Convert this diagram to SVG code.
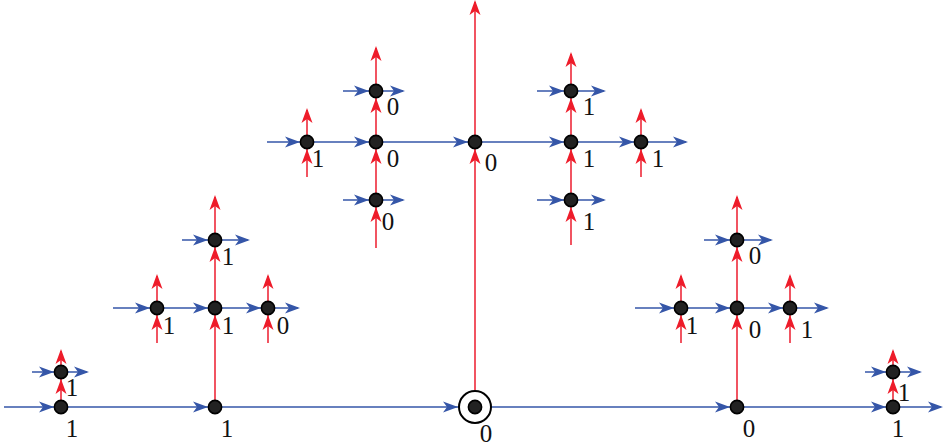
<svg xmlns="http://www.w3.org/2000/svg" xmlns:xlink="http://www.w3.org/1999/xlink" width="945" height="448" viewBox="0 0 945 448">
<style>
.b{stroke:#3556a8;stroke-width:1.6;fill:none}
.r{stroke:#ee2a3a;stroke-width:1.6;fill:none}
.n{fill:#222;stroke:#000;stroke-width:1.6}
.t{font-family:"Liberation Serif","Times New Roman",serif;font-size:25px;fill:#111;text-anchor:middle}
</style>
<defs>
<path id="ab" d="M0,0 L-15,-5.5 L-11,0 L-15,5.5 Z" fill="#3556a8"/>
<path id="ar" d="M0,0 L-5.5,15 L0,11 L5.5,15 Z" fill="#ee1c2a"/>
</defs>
<rect width="945" height="448" fill="#fff"/>
<g id="connectors">
<line class="b" x1="4" y1="407" x2="941" y2="407"/>
<line class="b" x1="32" y1="372" x2="87" y2="372"/>
<line class="b" x1="865" y1="372" x2="920" y2="372"/>
<line class="b" x1="113" y1="308" x2="298" y2="308"/>
<line class="b" x1="182" y1="240" x2="248" y2="240"/>
<line class="b" x1="635" y1="308" x2="827" y2="308"/>
<line class="b" x1="704" y1="240" x2="771" y2="240"/>
<line class="b" x1="267" y1="142" x2="686" y2="142"/>
<line class="b" x1="343" y1="91" x2="403" y2="91"/>
<line class="b" x1="537" y1="91" x2="604" y2="91"/>
<line class="b" x1="343" y1="200" x2="403" y2="200"/>
<line class="b" x1="537" y1="200" x2="604" y2="200"/>
<line class="r" x1="61" y1="407" x2="61" y2="351"/>
<line class="r" x1="893" y1="407" x2="893" y2="351"/>
<line class="r" x1="215" y1="407" x2="215" y2="197"/>
<line class="r" x1="737" y1="407" x2="737" y2="197"/>
<line class="r" x1="475" y1="390" x2="475" y2="2"/>
<line class="r" x1="376" y1="248" x2="376" y2="48"/>
<line class="r" x1="571" y1="245" x2="571" y2="54"/>
<line class="r" x1="157" y1="343" x2="157" y2="276"/>
<line class="r" x1="268" y1="343" x2="268" y2="276"/>
<line class="r" x1="681" y1="343" x2="681" y2="276"/>
<line class="r" x1="790" y1="343" x2="790" y2="276"/>
<line class="r" x1="307" y1="177" x2="307" y2="110"/>
<line class="r" x1="641" y1="177" x2="641" y2="110"/>
<use xlink:href="#ab" x="54" y="407"/>
<use xlink:href="#ab" x="208" y="407"/>
<use xlink:href="#ab" x="458" y="407"/>
<use xlink:href="#ab" x="730" y="407"/>
<use xlink:href="#ab" x="886" y="407"/>
<use xlink:href="#ab" x="943" y="407"/>
<use xlink:href="#ab" x="54" y="372"/>
<use xlink:href="#ab" x="89" y="372"/>
<use xlink:href="#ab" x="886" y="372"/>
<use xlink:href="#ab" x="922" y="372"/>
<use xlink:href="#ab" x="150" y="308"/>
<use xlink:href="#ab" x="208" y="308"/>
<use xlink:href="#ab" x="261" y="308"/>
<use xlink:href="#ab" x="300" y="308"/>
<use xlink:href="#ab" x="208" y="240"/>
<use xlink:href="#ab" x="250" y="240"/>
<use xlink:href="#ab" x="674" y="308"/>
<use xlink:href="#ab" x="730" y="308"/>
<use xlink:href="#ab" x="783" y="308"/>
<use xlink:href="#ab" x="829" y="308"/>
<use xlink:href="#ab" x="730" y="240"/>
<use xlink:href="#ab" x="773" y="240"/>
<use xlink:href="#ab" x="300" y="142"/>
<use xlink:href="#ab" x="369" y="142"/>
<use xlink:href="#ab" x="468" y="142"/>
<use xlink:href="#ab" x="564" y="142"/>
<use xlink:href="#ab" x="634" y="142"/>
<use xlink:href="#ab" x="688" y="142"/>
<use xlink:href="#ab" x="369" y="91"/>
<use xlink:href="#ab" x="405" y="91"/>
<use xlink:href="#ab" x="564" y="91"/>
<use xlink:href="#ab" x="606" y="91"/>
<use xlink:href="#ab" x="369" y="200"/>
<use xlink:href="#ab" x="405" y="200"/>
<use xlink:href="#ab" x="564" y="200"/>
<use xlink:href="#ab" x="606" y="200"/>
<use xlink:href="#ar" x="61" y="379"/>
<use xlink:href="#ar" x="61" y="349"/>
<use xlink:href="#ar" x="893" y="379"/>
<use xlink:href="#ar" x="893" y="349"/>
<use xlink:href="#ar" x="215" y="315"/>
<use xlink:href="#ar" x="215" y="247"/>
<use xlink:href="#ar" x="215" y="195"/>
<use xlink:href="#ar" x="737" y="315"/>
<use xlink:href="#ar" x="737" y="247"/>
<use xlink:href="#ar" x="737" y="195"/>
<use xlink:href="#ar" x="475" y="149"/>
<use xlink:href="#ar" x="475" y="0"/>
<use xlink:href="#ar" x="376" y="207"/>
<use xlink:href="#ar" x="376" y="149"/>
<use xlink:href="#ar" x="376" y="98"/>
<use xlink:href="#ar" x="376" y="46"/>
<use xlink:href="#ar" x="571" y="207"/>
<use xlink:href="#ar" x="571" y="149"/>
<use xlink:href="#ar" x="571" y="98"/>
<use xlink:href="#ar" x="571" y="52"/>
<use xlink:href="#ar" x="157" y="315"/>
<use xlink:href="#ar" x="157" y="274"/>
<use xlink:href="#ar" x="268" y="315"/>
<use xlink:href="#ar" x="268" y="274"/>
<use xlink:href="#ar" x="681" y="315"/>
<use xlink:href="#ar" x="681" y="274"/>
<use xlink:href="#ar" x="790" y="315"/>
<use xlink:href="#ar" x="790" y="274"/>
<use xlink:href="#ar" x="307" y="149"/>
<use xlink:href="#ar" x="307" y="108"/>
<use xlink:href="#ar" x="641" y="149"/>
<use xlink:href="#ar" x="641" y="108"/>
</g>
<g id="n-b1"><circle class="n" cx="61" cy="407" r="6.6"/><text class="t" x="72" y="437">1</text></g>
<g id="n-b1u"><circle class="n" cx="61" cy="372" r="6.6"/><text class="t" x="72" y="396">1</text></g>
<g id="n-b2"><circle class="n" cx="215" cy="407" r="6.6"/><text class="t" x="227" y="437">1</text></g>
<g id="n-b3"><circle cx="475" cy="407" r="16" fill="#fff" stroke="#000" stroke-width="2"/><circle class="n" cx="475" cy="407" r="6.6"/><text class="t" x="486" y="442">0</text></g>
<g id="n-b4"><circle class="n" cx="737" cy="407" r="6.6"/><text class="t" x="749" y="437">0</text></g>
<g id="n-b5"><circle class="n" cx="893" cy="407" r="6.6"/><text class="t" x="898" y="437">1</text></g>
<g id="n-b5u"><circle class="n" cx="893" cy="372" r="6.6"/><text class="t" x="904" y="401">1</text></g>
<g id="n-l1"><circle class="n" cx="157" cy="308" r="6.6"/><text class="t" x="169" y="334">1</text></g>
<g id="n-l2"><circle class="n" cx="215" cy="308" r="6.6"/><text class="t" x="228" y="334">1</text></g>
<g id="n-l3"><circle class="n" cx="268" cy="308" r="6.6"/><text class="t" x="283" y="334">0</text></g>
<g id="n-l4"><circle class="n" cx="215" cy="240" r="6.6"/><text class="t" x="228" y="265">1</text></g>
<g id="n-r1"><circle class="n" cx="681" cy="308" r="6.6"/><text class="t" x="692" y="334">1</text></g>
<g id="n-r2"><circle class="n" cx="737" cy="308" r="6.6"/><text class="t" x="755" y="338">0</text></g>
<g id="n-r3"><circle class="n" cx="790" cy="308" r="6.6"/><text class="t" x="807" y="338">1</text></g>
<g id="n-r4"><circle class="n" cx="737" cy="240" r="6.6"/><text class="t" x="755" y="264">0</text></g>
<g id="n-m1"><circle class="n" cx="307" cy="142" r="6.6"/><text class="t" x="318" y="167">1</text></g>
<g id="n-m2"><circle class="n" cx="376" cy="142" r="6.6"/><text class="t" x="393" y="167">0</text></g>
<g id="n-m2u"><circle class="n" cx="376" cy="91" r="6.6"/><text class="t" x="393" y="115">0</text></g>
<g id="n-m2d"><circle class="n" cx="376" cy="200" r="6.6"/><text class="t" x="388" y="230">0</text></g>
<g id="n-m3"><circle class="n" cx="475" cy="142" r="6.6"/><text class="t" x="491" y="171">0</text></g>
<g id="n-m4"><circle class="n" cx="571" cy="142" r="6.6"/><text class="t" x="589" y="167">1</text></g>
<g id="n-m4u"><circle class="n" cx="571" cy="91" r="6.6"/><text class="t" x="589" y="115">1</text></g>
<g id="n-m4d"><circle class="n" cx="571" cy="200" r="6.6"/><text class="t" x="589" y="230">1</text></g>
<g id="n-m5"><circle class="n" cx="641" cy="142" r="6.6"/><text class="t" x="658" y="167">1</text></g>
</svg>
